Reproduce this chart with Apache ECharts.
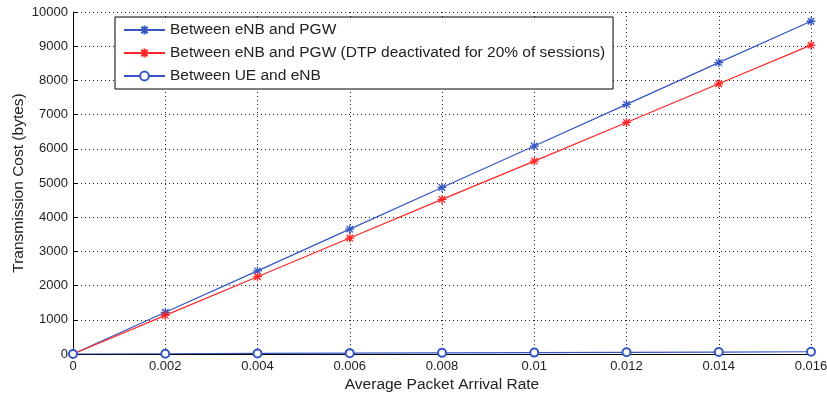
<!DOCTYPE html>
<html><head><meta charset="utf-8">
<script src="https://cdn.jsdelivr.net/npm/echarts@6/dist/echarts.min.js"></script>
<style>html,body{margin:0;padding:0;background:#fff}#c{width:827px;height:399px}</style>
</head><body><div id="c"></div>
<script>
const arrivalRates = [0, 0.002, 0.004, 0.006, 0.008, 0.01, 0.012, 0.014, 0.016];
const enbPgw = [0, 1220, 2430, 3650, 4870, 6080, 7300, 8520, 9730];
const enbPgwDtp = [0, 1130, 2260, 3390, 4520, 5640, 6770, 7900, 9030];
const ueEnb = [0, 8, 16, 25, 33, 41, 49, 57, 66];
const seriesNames = ['Between eNB and PGW', 'Between eNB and PGW (DTP deactivated for 20% of sessions)', 'Between UE and eNB'];

const BLUE = '#3556c4', RED = '#ff2626';
const STAR = 'path://M0,-5L0,5M-5,0L5,0M-3.6,-3.6L3.6,3.6M-3.6,3.6L3.6,-3.6';
const pair = (ys) => arrivalRates.map((x, i) => [x, ys[i]]);

const chart = echarts.init(document.getElementById('c'), null, {renderer: 'canvas'});
const font = 'Liberation Sans, Arial, sans-serif';
chart.setOption({
  animation: false,
  backgroundColor: '#fff',
  grid: {left: 73, right: 16, top: 12, bottom: 45, containLabel: false, outerBoundsMode: 'none'},
  xAxis: {
    type: 'value', min: 0, max: 0.016, interval: 0.002,
    name: 'Average Packet Arrival Rate', nameLocation: 'middle', nameGap: 23, nameMoveOverlap: false,
    nameTextStyle: {fontFamily: font, fontSize: 15.5, color: '#222'},
    axisLine: {show: true, onZero: false, lineStyle: {color: '#000', width: 1}},
    axisTick: {show: true, inside: true, length: 5, lineStyle: {color: '#000'}},
    axisLabel: {fontFamily: font, fontSize: 13, color: '#222', margin: 6,
      formatter: v => (v === 0 ? '0' : String(+v.toFixed(3)))},
    splitLine: {show: true, lineStyle: {color: '#222', type: [1, 3], width: 1}}
  },
  yAxis: {
    type: 'value', min: 0, max: 10000, interval: 1000,
    name: 'Transmission Cost (bytes)', nameLocation: 'middle', nameGap: 46, nameMoveOverlap: false,
    nameTextStyle: {fontFamily: font, fontSize: 15.5, color: '#222'},
    axisLine: {show: true, onZero: false, lineStyle: {color: '#000', width: 1}},
    axisTick: {show: true, inside: true, length: 5, lineStyle: {color: '#000'}},
    axisLabel: {fontFamily: font, fontSize: 13, color: '#222', margin: 5, formatter: v => String(v)},
    splitLine: {show: true, lineStyle: {color: '#222', type: [1, 3], width: 1}}
  },
  legend: {
    orient: 'vertical', left: 115, top: 17,
    padding: [5, 8, 5, 8], itemGap: 7, itemWidth: 41, itemHeight: 11,
    backgroundColor: '#fff', borderColor: '#000', borderWidth: 1,
    textStyle: {fontFamily: font, fontSize: 15.5, color: '#222', lineHeight: 14},
    data: seriesNames
  },
  series: [
    {name: seriesNames[0], type: 'line', data: pair(enbPgw), symbol: STAR, symbolSize: 9,
     lineStyle: {color: BLUE, width: 1.2}, itemStyle: {color: BLUE, borderColor: BLUE, borderWidth: 1.3}},
    {name: seriesNames[1], type: 'line', data: pair(enbPgwDtp), symbol: STAR, symbolSize: 9,
     lineStyle: {color: RED, width: 1.2}, itemStyle: {color: RED, borderColor: RED, borderWidth: 1.3}},
    {name: seriesNames[2], type: 'line', data: pair(ueEnb), symbol: 'emptyCircle', symbolSize: 8,
     lineStyle: {color: BLUE, width: 1.2}, itemStyle: {color: BLUE, borderColor: BLUE, borderWidth: 1.2}}
  ]
});
</script></body></html>
